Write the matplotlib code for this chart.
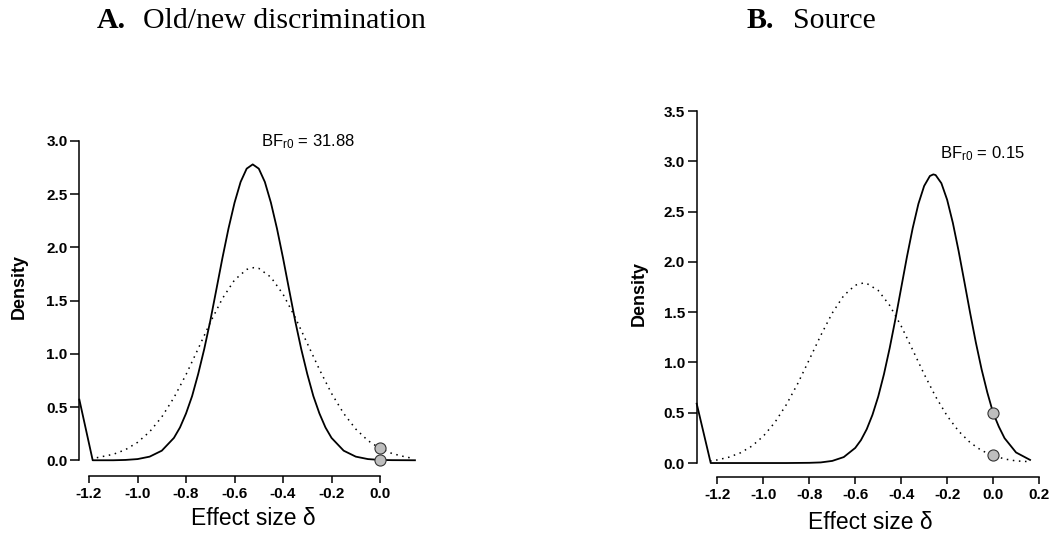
import numpy as np
import matplotlib
matplotlib.use("Agg")
from matplotlib import pyplot as plt

plt.rcParams['font.family'] = ['Liberation Sans', 'DejaVu Sans']
plt.rcParams['mathtext.fontset'] = 'custom'
plt.rcParams['mathtext.rm'] = 'Liberation Sans'
plt.rcParams['mathtext.it'] = 'Liberation Sans'

# A. Old/new discrimination
a_post_x = [-1.24, -1.185, -1.10, -1.05, -1.00, -0.95, -0.90, -0.85, -0.825, -0.80, -0.775,
            -0.75, -0.725, -0.70, -0.675, -0.65, -0.625, -0.60, -0.575, -0.55, -0.525,
            -0.50, -0.475, -0.45, -0.425, -0.40, -0.375, -0.35, -0.325, -0.30, -0.275,
            -0.25, -0.225, -0.20, -0.15, -0.10, -0.05, 0.00, 0.05, 0.144]
a_post_y = [0.57, 0.0, 0.0, 0.003, 0.011, 0.034, 0.09, 0.21, 0.308, 0.44, 0.603,
            0.81, 1.045, 1.31, 1.604, 1.90, 2.177, 2.42, 2.615, 2.74, 2.78,
            2.74, 2.615, 2.42, 2.177, 1.90, 1.604, 1.31, 1.045, 0.81, 0.603,
            0.44, 0.308, 0.21, 0.09, 0.034, 0.011, 0.003, 0.001, 0.0]
a_prior_x = [-1.168, -1.10, -1.05, -1.00, -0.95, -0.90, -0.85, -0.80, -0.75, -0.70, -0.65,
             -0.60, -0.55, -0.52, -0.50, -0.45, -0.40, -0.35, -0.30, -0.25, -0.20, -0.15,
             -0.10, -0.05, 0.00, 0.05, 0.10, 0.13]
a_prior_y = [0.024, 0.056, 0.099, 0.168, 0.268, 0.407, 0.588, 0.805, 1.048, 1.295, 1.52,
             1.694, 1.793, 1.81, 1.803, 1.72, 1.56, 1.343, 1.098, 0.853, 0.628, 0.44,
             0.293, 0.185, 0.111, 0.063, 0.034, 0.02]
a_points = [0.111, 0.003]
a_bf = 'BF$_{\\mathrm{r0}}$ = 31.88'

# B. Source
b_post_x = [-1.29, -1.229, -1.10, -1.00, -0.90, -0.80, -0.75, -0.70, -0.65, -0.60, -0.575,
            -0.55, -0.525, -0.50, -0.475, -0.45, -0.425, -0.40, -0.375, -0.35, -0.325,
            -0.30, -0.275, -0.26, -0.25, -0.225, -0.20, -0.175, -0.15, -0.125, -0.10,
            -0.075, -0.05, -0.025, 0.00, 0.025, 0.05, 0.10, 0.161]
b_post_y = [0.59, 0.0, 0.0, 0.0, 0.0, 0.002, 0.006, 0.021, 0.059, 0.15, 0.228,
            0.336, 0.479, 0.66, 0.883, 1.143, 1.432, 1.741, 2.049, 2.334, 2.577,
            2.755, 2.854, 2.87, 2.863, 2.782, 2.618, 2.387, 2.108, 1.803, 1.494,
            1.199, 0.932, 0.701, 0.50, 0.362, 0.247, 0.105, 0.031]
b_prior_x = [-1.232, -1.20, -1.15, -1.10, -1.05, -1.00, -0.95, -0.90, -0.85, -0.80, -0.75,
             -0.70, -0.65, -0.60, -0.565, -0.55, -0.50, -0.45, -0.40, -0.35, -0.30, -0.25,
             -0.20, -0.15, -0.10, -0.05, 0.00, 0.05, 0.10, 0.146]
b_prior_y = [0.02, 0.031, 0.058, 0.101, 0.168, 0.267, 0.403, 0.58, 0.791, 1.028, 1.269,
             1.491, 1.665, 1.768, 1.79, 1.786, 1.716, 1.567, 1.362, 1.125, 0.884, 0.66,
             0.469, 0.317, 0.204, 0.124, 0.076, 0.04, 0.021, 0.015]
b_points = [0.50, 0.076]
b_bf = 'BF$_{\\mathrm{r0}}$ = 0.15'

fig = plt.figure(figsize=(10.51, 5.34), dpi=100)

panels = [
    # rect, xlim, ylim, xticks, yticks, data, bf pos, label coords
    ([0.0755, 0.1086, 0.3207, 0.6274], (-1.24, 0.15), (-0.148, 3.0),
     [-1.2, -1.0, -0.8, -0.6, -0.4, -0.2, 0.0], [0.0, 0.5, 1.0, 1.5, 2.0, 2.5, 3.0],
     (a_post_x, a_post_y, a_prior_x, a_prior_y, a_points, a_bf), (-0.49, 2.947),
     (-0.152, 0.565), (0.516, -0.146)),
    ([0.6629, 0.1073, 0.3257, 0.6848], (-1.29, 0.2), (-0.136, 3.5),
     [-1.2, -1.0, -0.8, -0.6, -0.4, -0.2, 0.0, 0.2], [0.0, 0.5, 1.0, 1.5, 2.0, 2.5, 3.0, 3.5],
     (b_post_x, b_post_y, b_prior_x, b_prior_y, b_points, b_bf), (-0.23, 3.03),
     (-0.144, 0.5015), (0.506, -0.143)),
]

for rect, xl, yl, xt, yt, d, bfpos, ylc, xlc in panels:
    post_x, post_y, prior_x, prior_y, pts, bf = d
    ax = fig.add_axes(rect)
    ax.plot(prior_x, prior_y, color='black', lw=1.1, ls=(0, (1, 3)), clip_on=False)
    ax.plot(post_x, post_y, color='black', lw=1.3, clip_on=False)
    ax.plot([0.0] * len(pts), pts, 'o', ms=8, mfc='#bebebe', mec='#333333', mew=0.8,
            clip_on=False, zorder=5)
    ax.set_xlim(*xl)
    ax.set_ylim(*yl)
    ax.set_xticks(xt)
    ax.set_yticks(yt)
    ax.set_xticklabels(['%.1f' % v for v in xt], fontweight='bold', fontsize=11)
    ax.set_yticklabels(['%.1f' % v for v in yt], fontweight='bold', fontsize=11)
    ax.spines['top'].set_visible(False)
    ax.spines['right'].set_visible(False)
    ax.spines['left'].set_bounds(yt[0], yt[-1])
    ax.spines['bottom'].set_bounds(xt[0], xt[-1])
    ax.spines['left'].set_linewidth(1.1)
    ax.spines['bottom'].set_linewidth(1.1)
    ax.tick_params(axis='y', length=6.5, width=1.1, pad=2)
    ax.tick_params(axis='x', length=4.8, width=1.1, pad=3)
    ax.set_ylabel('Density', fontweight='bold', fontsize=13)
    ax.yaxis.set_label_coords(*ylc)
    ax.set_xlabel('Effect size δ', fontsize=16.5, va='baseline')
    ax.xaxis.set_label_coords(*xlc)
    ax.text(bfpos[0], bfpos[1], bf, fontsize=12, ha='left', va='baseline')

# panel titles
serif = ['Liberation Serif', 'DejaVu Serif']
fig.text(96.7 / 1051, 1 - 28.3 / 534, 'A.', family=serif, fontweight='bold', fontsize=21.5, va='baseline')
fig.text(143.3 / 1051, 1 - 28.3 / 534, 'Old/new discrimination', family=serif, fontsize=21.5, va='baseline')
fig.text(746.7 / 1051, 1 - 28.3 / 534, 'B.', family=serif, fontweight='bold', fontsize=21.5, va='baseline')
fig.text(793.3 / 1051, 1 - 28.3 / 534, 'Source', family=serif, fontsize=21.5, va='baseline')

fig.savefig('out.png', dpi=100)
